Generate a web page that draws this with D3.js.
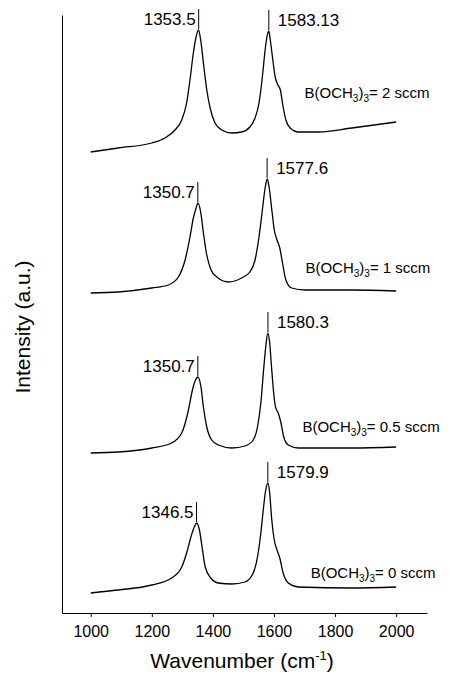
<!DOCTYPE html>
<html>
<head>
<meta charset="utf-8">
<script src="https://cdn.jsdelivr.net/npm/d3@7"></script>
<style>
  body { margin: 0; background: #fff; }
  text { font-family: "Liberation Sans", Arial, Helvetica, sans-serif; fill: #000; }
</style>
</head>
<body>
<svg id="chart"></svg>
<script>
// B(OCH3)3 flow rate of each spectrum, top to bottom
const flows = ['2', '1', '0.5', '0'];

// [wavenumber (cm-1), intensity (a.u.)], spectra already stacked
const spec2 = [
  [1000, 461], [1090, 465], [1200, 470], [1243, 475], [1276, 483], [1298, 493],
  [1314, 510], [1325, 533], [1336, 560], [1345, 576], [1353, 583], [1360, 573],
  [1369, 550], [1380, 523], [1391, 505], [1407, 490], [1429, 483], [1462, 480],
  [1494, 481], [1521, 486], [1538, 495], [1551, 510], [1562, 536], [1571, 563],
  [1577, 576], [1583, 582], [1588, 573], [1595, 556], [1604, 536], [1613, 528],
  [1621, 523], [1630, 506], [1639, 493], [1653, 485], [1681, 481], [1746, 481],
  [1855, 485], [2000, 491]
];
const spec1 = [
  [1000, 320], [1090, 321], [1200, 325], [1254, 328], [1287, 336], [1309, 353],
  [1325, 376], [1336, 395], [1345, 405], [1351, 410], [1360, 401], [1369, 380],
  [1380, 358], [1394, 343], [1413, 336], [1451, 331], [1494, 335], [1521, 341],
  [1538, 353], [1551, 376], [1562, 403], [1571, 425], [1578, 434], [1584, 426],
  [1593, 403], [1601, 383], [1610, 373], [1619, 365], [1628, 350], [1639, 333],
  [1658, 325], [1702, 323], [1855, 323], [2000, 322]
];
const spec05 = [
  [1000, 160], [1090, 161], [1200, 165], [1265, 170], [1298, 180], [1320, 203],
  [1333, 223], [1343, 233], [1351, 236], [1361, 226], [1369, 206], [1380, 186],
  [1396, 173], [1418, 168], [1462, 165], [1505, 167], [1532, 173], [1546, 186],
  [1557, 210], [1566, 243], [1573, 266], [1580, 280], [1586, 270], [1592, 246],
  [1599, 220], [1605, 206], [1614, 200], [1623, 190], [1632, 176], [1647, 168],
  [1680, 165], [1855, 165], [2000, 166]
];
const spec0 = [
  [1000, 20], [1090, 23], [1200, 28], [1265, 35], [1298, 46], [1314, 60],
  [1328, 76], [1339, 86], [1347, 90], [1356, 83], [1365, 65], [1375, 46],
  [1393, 35], [1418, 30], [1462, 29], [1505, 31], [1532, 40], [1546, 56],
  [1557, 80], [1566, 106], [1573, 123], [1580, 130], [1586, 120], [1592, 96],
  [1601, 73], [1610, 63], [1619, 55], [1630, 40], [1647, 30], [1680, 26],
  [1855, 25], [2000, 26]
];
const spectra = [spec2, spec1, spec05, spec0];

// marked peaks (cm-1) and the text printed next to them
const dPeaks = [1353.5, 1350.7, 1350.7, 1346.5];
const gPeaks = [1583.13, 1577.6, 1580.3, 1579.9];
const dLabels = ['1353.5', '1350.7', '1350.7', '1346.5'];
const gLabels = ['1583.13', '1577.6', '1580.3', '1579.9'];

const xTicks = [1000, 1200, 1400, 1600, 1800, 2000];

// where each flow note sits, in data units [wavenumber, intensity]
const notePos = [[1700, 515], [1703, 340], [1693, 181], [1720, 35]];

const W = 456, H = 676;
const svg = d3.select('#chart').attr('width', W).attr('height', H);

const x = d3.scaleLinear().domain([906, 2101]).range([62, 427]);
const y = d3.scaleLinear().domain([0, 598]).range([613, 15]);

// x axis
svg.append('g')
  .attr('transform', `translate(0,${y(0)})`)
  .call(d3.axisBottom(x).tickValues(xTicks).tickFormat(d3.format('d'))
    .tickSize(4).tickSizeOuter(0).tickPadding(9))
  .call(g => g.attr('font-family', null).attr('font-size', null))
  .call(g => g.selectAll('text').style('font-size', '16px'));

// y axis: bare line
svg.append('g')
  .attr('transform', `translate(${x.range()[0]},0)`)
  .call(d3.axisLeft(y).tickValues([]).tickSizeOuter(0));

svg.selectAll('.domain').attr('stroke', '#000').attr('stroke-width', 1);

// axis titles
const xTitle = svg.append('text')
  .attr('x', 242).attr('y', 668)
  .attr('text-anchor', 'middle')
  .style('font-size', '21px');
xTitle.append('tspan').text('Wavenumber (cm');
xTitle.append('tspan').attr('dy', -8).style('font-size', '13px').text('-1');
xTitle.append('tspan').attr('dy', 8).text(')');

svg.append('text')
  .attr('transform', 'translate(30,327) rotate(-90)')
  .attr('text-anchor', 'middle')
  .style('font-size', '21px')
  .text('Intensity (a.u.)');

// spectra
const line = d3.line()
  .x(d => x(d[0]))
  .y(d => y(d[1]))
  .curve(d3.curveMonotoneX);

svg.append('g')
  .selectAll('path')
  .data(spectra)
  .join('path')
  .attr('d', line)
  .attr('fill', 'none')
  .attr('stroke', '#000')
  .attr('stroke-width', 1.3)
  .attr('stroke-linejoin', 'round');

// peak markers
const peakTop = (s, wn) => d3.max(s.filter(d => Math.abs(d[0] - wn) < 12), d => d[1]);
const markLen = 20;

spectra.forEach((s, i) => {
  [[dPeaks[i], dLabels[i], 'end'], [gPeaks[i], gLabels[i], 'start']].forEach(([wn, lbl, anchor]) => {
    const px = x(wn);
    const py = y(peakTop(s, wn)) - 1;
    svg.append('line')
      .attr('x1', px).attr('x2', px)
      .attr('y1', py).attr('y2', py - markLen)
      .attr('stroke', '#000').attr('stroke-width', 1);
    svg.append('text')
      .attr('x', anchor === 'end' ? px - 3 : px + 9)
      .attr('y', py - markLen + 16)
      .attr('text-anchor', anchor)
      .style('font-size', '17px')
      .text(lbl);
  });

  // flow note: B(OCH3)3= n sccm
  const note = svg.append('text')
    .attr('x', x(notePos[i][0])).attr('y', y(notePos[i][1]))
    .style('font-size', '15px');
  note.append('tspan').text('B(OCH');
  note.append('tspan').attr('dy', 4).style('font-size', '10px').text('3');
  note.append('tspan').attr('dy', -4).text(')');
  note.append('tspan').attr('dy', 4).style('font-size', '10px').text('3');
  note.append('tspan').attr('dy', -4).text('= ' + flows[i] + ' sccm');
});
</script>
</body>
</html>
